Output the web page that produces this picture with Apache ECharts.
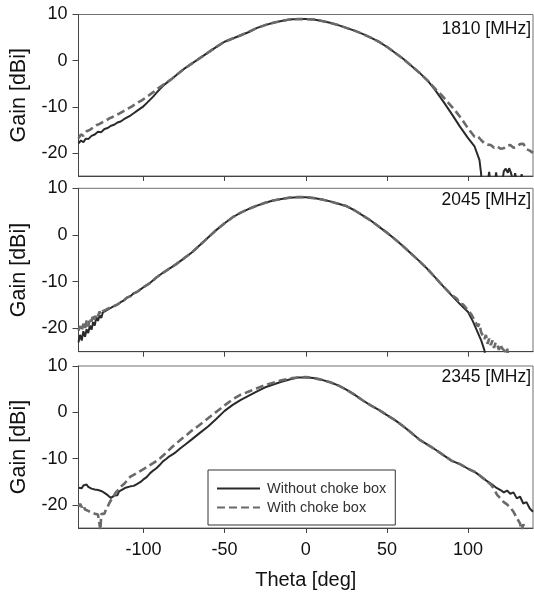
<!DOCTYPE html>
<html>
<head>
<meta charset="utf-8">
<script src="https://cdn.jsdelivr.net/npm/echarts@6/dist/echarts.min.js"></script>
<style>
html,body{margin:0;padding:0;background:#fff;}
#chart{width:534px;height:598px;}
</style>
</head>
<body>
<div id="chart"></div>
<script>
// ---- data (theta [deg], gain [dBi]) ----
var seriesNames = ['Without choke box', 'With choke box'];
var panelLabels = ['1810 [MHz]', '2045 [MHz]', '2345 [MHz]'];
var xTicks = [-100, -50, 0, 50, 100];
var yTicks = [-20, -10, 0, 10];

var p1Without = [[-140,-17.9],[-138.5,-17.3],[-137,-17.7],[-135.5,-16.9],[-134,-17.0],[-132,-16.3],[-130,-16.0],[-128,-15.4],[-126,-15.5],[-124,-14.8],[-122,-14.6],[-120,-14.1],[-118,-13.9],[-116,-13.4],[-114,-13.2],[-112,-12.7],[-110,-12.3],[-108,-11.9],[-106,-11.4],[-104,-10.9],[-102,-10.4],[-100,-9.9],[-98,-9.2],[-96,-8.5],[-94,-7.8],[-92,-7.0],[-90,-6.2],[-88,-5.5],[-85,-4.6],[-82,-3.8],[-80,-3.2],[-75,-1.8],[-70,-0.6],[-65,0.6],[-60,1.8],[-55,3.0],[-50,4.1],[-45,4.8],[-40,5.5],[-35,6.2],[-30,7.1],[-25,7.7],[-20,8.2],[-15,8.6],[-10,8.9],[-5,9.0],[0,9.0],[5,8.9],[10,8.6],[15,8.2],[20,7.7],[25,7.1],[30,6.5],[35,5.8],[40,5.0],[45,4.1],[50,3.0],[55,1.7],[60,0.4],[65,-1.1],[70,-2.6],[75,-4.3],[80,-6.5],[85,-9.0],[90,-11.6],[95,-14.3],[100,-16.8],[104,-18.6],[107,-21.5],[108,-24.4],[108.4,-26.5],[112,-26.5],[113,-24.1],[113.8,-26.5],[116.5,-26.5],[117.3,-24.2],[118,-26.5],[121,-26.5],[122,-24.0],[123.2,-23.4],[124.5,-24.3],[125.3,-23.3],[126.5,-24.4],[128,-26.5],[129,-24.4],[130,-26.5],[132,-26.5],[133,-24.6],[134,-26.5],[140,-26.5]];

var p1With = [[-140,-16.8],[-138.5,-16.0],[-137,-16.3],[-135,-15.3],[-133,-15.0],[-131,-14.5],[-129,-14.0],[-127,-13.7],[-125,-13.3],[-123,-13.0],[-121,-12.5],[-119,-12.2],[-117,-11.8],[-115,-11.5],[-113,-11.1],[-111,-10.7],[-109,-10.3],[-107,-9.9],[-105,-9.4],[-103,-9.0],[-101,-8.6],[-99,-8.1],[-97,-7.6],[-95,-7.1],[-93,-6.6],[-91,-6.0],[-88,-5.3],[-85,-4.6],[-82,-3.8],[-80,-3.2],[-75,-1.8],[-70,-0.6],[-65,0.6],[-60,1.8],[-55,3.0],[-50,4.1],[-45,4.8],[-40,5.5],[-35,6.3],[-30,7.1],[-25,7.7],[-20,8.2],[-15,8.6],[-10,8.9],[-5,9.0],[0,9.0],[5,8.9],[10,8.6],[15,8.2],[20,7.7],[25,7.1],[30,6.5],[35,5.8],[40,5.0],[45,4.1],[50,3.0],[55,1.7],[60,0.4],[65,-1.1],[70,-2.6],[75,-4.3],[80,-6.2],[84,-7.6],[88,-9.2],[92,-10.8],[96,-12.6],[100,-14.7],[104,-16.5],[106,-16.4],[108,-17.2],[110,-17.9],[112,-18.2],[114,-18.3],[116,-18.9],[118,-18.6],[120,-19.1],[122,-19.0],[124,-18.4],[126,-18.3],[128,-18.9],[130,-18.6],[132,-18.1],[134,-18.0],[136,-19.2],[138,-19.5],[140,-20.0]];

var p2Without = [[-140,-23.0],[-139,-21.4],[-138,-22.6],[-137,-20.6],[-136,-21.8],[-135,-20.2],[-134,-21.0],[-133,-19.4],[-132,-20.3],[-131,-18.7],[-130,-19.4],[-129,-17.6],[-128,-18.4],[-127,-17.2],[-126,-17.8],[-125,-16.6],[-124,-17.0],[-123,-16.2],[-122,-16.5],[-121,-15.8],[-120,-15.9],[-118,-15.2],[-116,-14.9],[-114,-14.4],[-112,-14.0],[-110,-13.4],[-108,-13.1],[-106,-12.5],[-104,-12.2],[-102,-11.7],[-100,-11.2],[-96,-10.3],[-92,-9.1],[-88,-8.1],[-84,-7.2],[-80,-6.3],[-75,-5.0],[-70,-3.7],[-65,-2.1],[-60,-0.5],[-55,1.1],[-50,2.5],[-45,3.8],[-40,4.8],[-35,5.6],[-30,6.3],[-25,6.9],[-20,7.4],[-15,7.7],[-10,8.0],[-5,8.1],[0,8.1],[5,7.9],[10,7.6],[15,7.2],[20,6.7],[25,6.2],[30,5.3],[35,4.2],[40,3.1],[45,1.8],[50,0.5],[55,-0.9],[60,-2.4],[65,-4.0],[70,-5.6],[75,-7.3],[80,-9.2],[85,-11.1],[90,-13.0],[95,-14.8],[100,-16.5],[103,-18.5],[106,-20.9],[108,-22.5],[110,-24.6],[111,-26.5]];

var p2With = [[-140,-20.5],[-139,-19.5],[-138,-20.6],[-137,-19.0],[-136,-20.1],[-135,-18.3],[-134,-19.6],[-133,-17.8],[-132,-18.6],[-131,-17.0],[-130,-18.1],[-129,-16.8],[-128,-17.3],[-127,-16.4],[-126,-17.0],[-125,-16.3],[-124,-16.6],[-123,-16.0],[-122,-16.3],[-121,-15.6],[-120,-15.9],[-118,-15.2],[-116,-14.9],[-114,-14.4],[-112,-14.0],[-110,-13.4],[-108,-13.1],[-106,-12.5],[-104,-12.2],[-102,-11.7],[-100,-11.2],[-96,-10.3],[-92,-9.1],[-88,-8.1],[-84,-7.2],[-80,-6.3],[-75,-5.0],[-70,-3.7],[-65,-2.1],[-60,-0.5],[-55,1.1],[-50,2.5],[-45,3.8],[-40,4.8],[-35,5.6],[-30,6.3],[-25,6.9],[-20,7.4],[-15,7.7],[-10,8.0],[-5,8.1],[0,8.1],[5,7.9],[10,7.6],[15,7.2],[20,6.7],[25,6.2],[30,5.3],[35,4.2],[40,3.1],[45,1.8],[50,0.5],[55,-0.9],[60,-2.4],[65,-4.0],[70,-5.6],[75,-7.3],[80,-9.2],[85,-11.1],[90,-12.9],[93,-13.6],[95,-14.7],[97,-14.9],[100,-16.2],[102,-17.0],[104,-18.3],[106,-19.6],[107,-19.0],[108,-20.8],[109,-21.5],[110,-22.3],[111,-21.4],[112,-23.3],[113,-22.2],[114,-23.6],[115,-22.6],[116,-24.2],[117,-23.0],[118,-23.5],[119,-24.6],[120,-23.4],[121,-24.3],[122,-23.9],[123,-25.0],[124,-24.2],[125,-26.5]];

var p3Without = [[-140,-16.3],[-139,-15.9],[-138,-16.4],[-137,-15.8],[-136,-16.2],[-135,-15.6],[-134,-16.1],[-133,-16.0],[-132,-16.5],[-131,-16.2],[-130,-16.7],[-129,-16.4],[-128,-16.8],[-127,-16.5],[-126,-17.0],[-125,-16.9],[-124,-17.4],[-123,-17.2],[-122,-17.9],[-121,-18.0],[-120,-18.5],[-119,-18.2],[-118,-18.0],[-117,-17.6],[-116,-17.9],[-115,-17.1],[-114,-17.3],[-113,-16.7],[-112,-16.9],[-111,-16.3],[-110,-16.5],[-108,-16.0],[-106,-15.9],[-104,-15.5],[-102,-15.1],[-100,-14.5],[-98,-14.0],[-96,-13.2],[-94,-12.6],[-92,-12.1],[-90,-11.4],[-88,-10.6],[-86,-10.1],[-84,-9.5],[-82,-9.1],[-80,-8.6],[-77,-7.7],[-74,-6.9],[-70,-5.8],[-65,-4.4],[-60,-3.0],[-55,-1.4],[-50,0.3],[-45,1.6],[-40,2.7],[-35,3.6],[-30,4.5],[-25,5.4],[-20,6.0],[-15,6.6],[-10,7.1],[-5,7.5],[0,7.5],[5,7.4],[10,7.0],[15,6.5],[20,5.8],[25,4.9],[30,3.8],[35,2.6],[40,1.5],[45,0.5],[50,-0.6],[55,-1.7],[60,-3.0],[65,-4.4],[70,-5.9],[75,-7.0],[80,-8.1],[85,-9.3],[90,-10.5],[95,-11.2],[100,-12.2],[105,-13.1],[108,-13.9],[111,-14.7],[114,-15.4],[117,-16.2],[120,-16.8],[122,-17.3],[124,-16.9],[126,-17.6],[128,-17.3],[130,-18.6],[132,-18.2],[134,-19.7],[136,-19.4],[138,-20.8],[140,-21.5]];

var p3With = [[-140,-20.4],[-139,-19.8],[-138,-20.5],[-137,-20.0],[-136,-21.0],[-135,-20.6],[-134,-21.3],[-133,-21.0],[-132,-21.7],[-131,-21.3],[-130,-21.9],[-129,-21.5],[-128,-22.1],[-127,-21.7],[-126.5,-25.5],[-126,-22.0],[-125,-21.6],[-124,-21.9],[-123,-20.9],[-122,-20.4],[-121,-19.6],[-120,-19.0],[-119,-18.4],[-118,-17.9],[-117,-17.3],[-116,-16.9],[-115,-16.6],[-114,-16.1],[-113,-15.9],[-112,-15.5],[-110,-14.7],[-108,-13.9],[-106,-13.5],[-104,-13.1],[-102,-12.7],[-100,-12.3],[-97,-11.6],[-94,-11.0],[-91,-10.3],[-88,-9.4],[-85,-8.4],[-82,-7.4],[-79,-6.5],[-76,-5.6],[-73,-4.8],[-70,-3.9],[-66,-2.9],[-62,-1.8],[-58,-0.7],[-54,0.4],[-50,1.5],[-45,2.8],[-40,3.8],[-35,4.5],[-30,5.2],[-25,5.9],[-20,6.4],[-15,6.9],[-10,7.3],[-5,7.5],[0,7.6],[5,7.4],[10,7.0],[15,6.5],[20,5.8],[25,4.9],[30,3.8],[35,2.6],[40,1.5],[45,0.5],[50,-0.6],[55,-1.7],[60,-3.0],[65,-4.4],[70,-5.9],[75,-7.0],[80,-8.1],[85,-9.3],[90,-10.5],[95,-11.2],[100,-12.2],[105,-13.0],[108,-13.9],[111,-14.7],[114,-15.6],[116,-16.6],[118,-17.9],[120,-18.6],[122,-19.4],[124,-19.9],[126,-20.6],[128,-21.5],[130,-22.8],[132,-24.0],[133,-25.5],[134,-24.2],[136,-25.6],[140,-26.5]];

var panels = [[p1Without, p1With], [p2Without, p2With], [p3Without, p3With]];

// ---- layout ----
var FONT = "'Liberation Sans', Arial, sans-serif";
var grids = [
  {left: 78.5, right: 1, top: 14.5, height: 161.5},
  {left: 78.5, right: 1, top: 188.3, height: 163.4},
  {left: 78.5, right: 1, top: 366, height: 162}
];
var lineColors = ['#2a2a2a', '#6a6a6a'];

var option = {
  backgroundColor: '#fff',
  animation: false,
  grid: grids.map(function (g) {
    return Object.assign({show: true, borderColor: '#707070', borderWidth: 1, backgroundColor: 'transparent'}, g);
  }),
  xAxis: grids.map(function (g, i) {
    return {
      type: 'value', gridIndex: i, min: -140, max: 140,
      axisLine: {show: true, onZero: false, lineStyle: {color: '#444', width: 1}},
      axisTick: {show: true, customValues: xTicks, length: 5, inside: false, lineStyle: {color: '#444'}},
      axisLabel: {show: i === 2, customValues: xTicks, margin: 13, fontSize: 18, color: '#111', fontFamily: FONT},
      splitLine: {show: false},
      name: i === 2 ? 'Theta [deg]' : '',
      nameLocation: 'middle', nameGap: 42,
      nameTextStyle: {fontSize: 20, color: '#111', fontFamily: FONT}
    };
  }),
  yAxis: grids.map(function (g, i) {
    return {
      type: 'value', gridIndex: i, min: -25, max: 10,
      axisLine: {show: true, onZero: false, lineStyle: {color: '#444', width: 1}},
      axisTick: {show: true, customValues: yTicks, length: 6, inside: false, lineStyle: {color: '#444'}},
      axisLabel: {show: true, customValues: yTicks, margin: 11, fontSize: 18, color: '#111', fontFamily: FONT},
      splitLine: {show: false},
      name: 'Gain [dBi]', nameLocation: 'middle', nameGap: 48, nameRotate: 90,
      nameTextStyle: {fontSize: 21.5, color: '#111', fontFamily: FONT}
    };
  }),
  legend: {
    show: true, orient: 'vertical', left: 208, top: 470,
    data: seriesNames,
    backgroundColor: '#fff', borderColor: '#333', borderWidth: 1,
    padding: [11, 9, 10, 8], itemGap: 4, itemWidth: 43, itemHeight: 14,
    itemStyle: {opacity: 0},
    textStyle: {fontSize: 14.5, color: '#333', fontFamily: FONT, padding: [0, 0, 0, 2]}
  },
  graphic: panelLabels.map(function (t, i) {
    var ys = [30, 201.5, 378.5];
    return {type: 'text', right: 3, top: ys[i] - 10,
      style: {text: t, fill: '#111', font: '17.5px ' + FONT}};
  }),
  series: []
};

panels.forEach(function (pair, i) {
  pair.forEach(function (data, k) {
    option.series.push({
      type: 'line', name: seriesNames[k], xAxisIndex: i, yAxisIndex: i,
      data: data, symbol: 'none', smooth: false, clip: true,
      lineStyle: {color: lineColors[k], width: k === 0 ? 2 : 2.6, type: k === 0 ? 'solid' : [8, 4]},
      itemStyle: {color: lineColors[k]},
      z: k === 0 ? 2 : 3
    });
  });
});

var chart = echarts.init(document.getElementById('chart'), null, {renderer: 'canvas'});
chart.setOption(option);
</script>
</body>
</html>
